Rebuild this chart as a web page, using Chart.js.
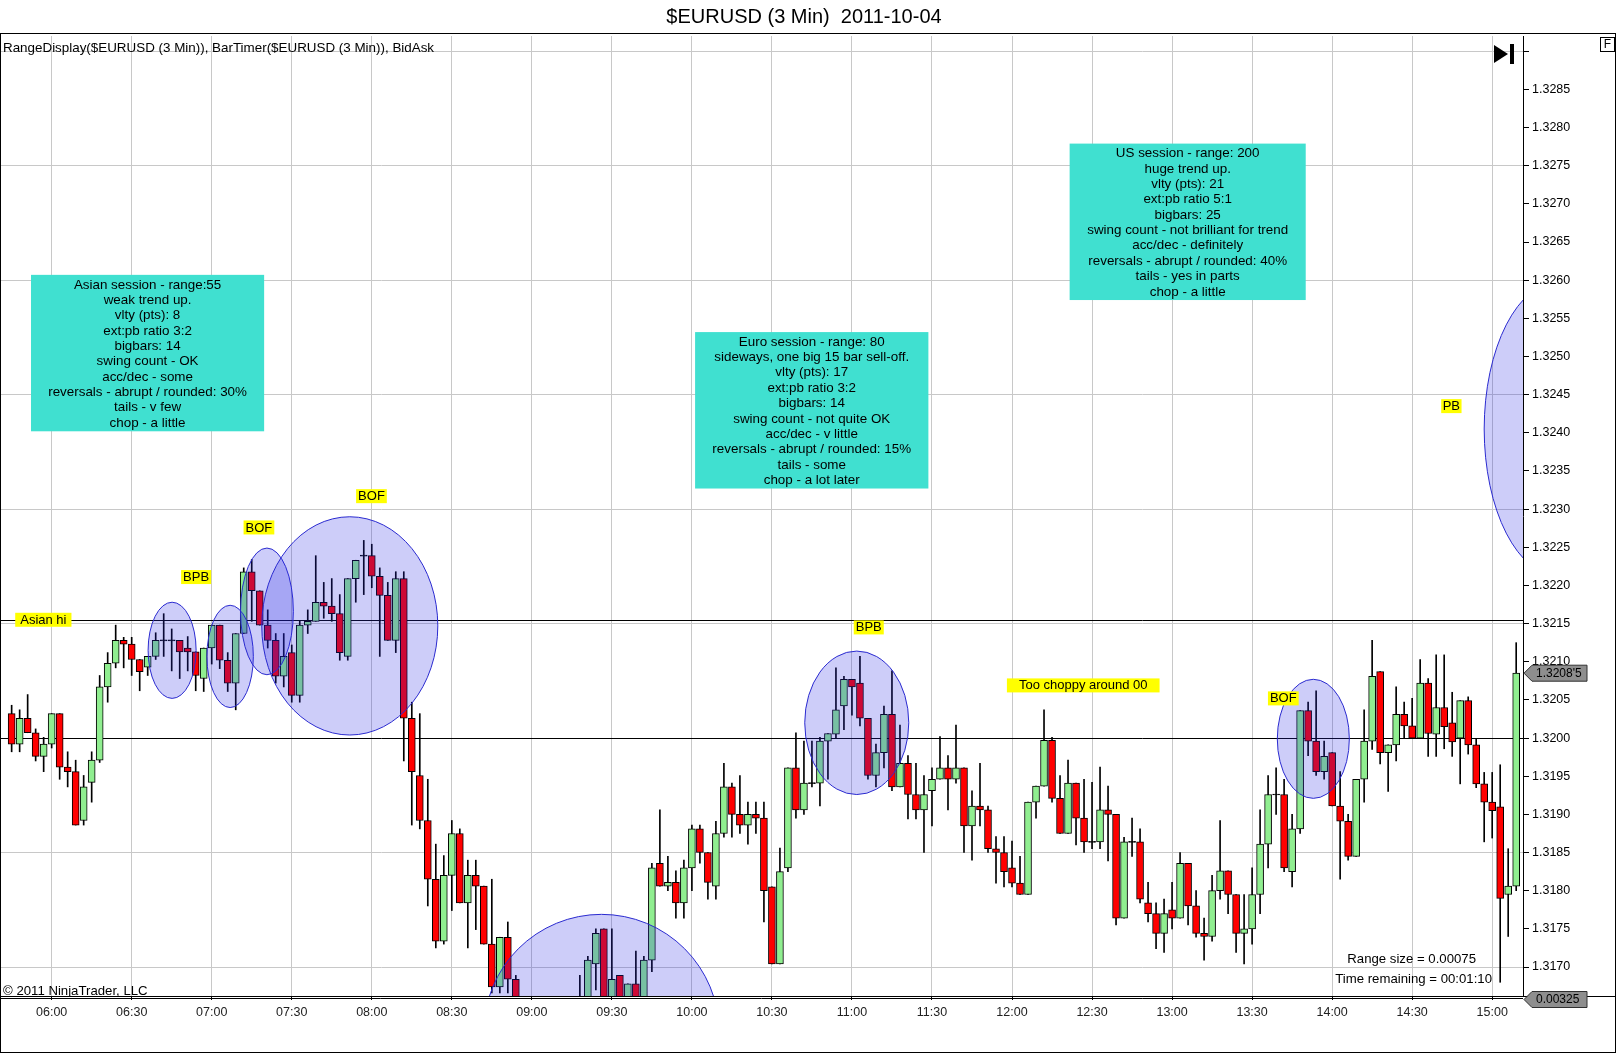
<!DOCTYPE html>
<html>
<head>
<meta charset="utf-8">
<title>$EURUSD (3 Min) 2011-10-04</title>
<script src="https://cdn.jsdelivr.net/npm/chart.js@4.4.1/dist/chart.umd.min.js"></script>
<style>
  html, body { margin: 0; padding: 0; background: #fff; }
  #chart { display: block; }
</style>
</head>
<body>
<canvas id="chart" width="1617" height="1054"></canvas>
<script>
// bar 0 is the 06:00 bar, one bar every 3 minutes; the file starts at 05:45
const firstBar = -5;

const tickBars = [0, 10, 20, 30, 40, 50, 60, 70, 80, 90, 100, 110, 120, 130, 140, 150, 160, 170, 180];
const tickTimes = ['06:00', '06:30', '07:00', '07:30', '08:00', '08:30', '09:00', '09:30', '10:00', '10:30',
  '11:00', '11:30', '12:00', '12:30', '13:00', '13:30', '14:00', '14:30', '15:00'];

const priceTicks = [1.3170, 1.3175, 1.3180, 1.3185, 1.3190, 1.3195, 1.3200, 1.3205, 1.3210, 1.3215, 1.3220,
  1.3225, 1.3230, 1.3235, 1.3240, 1.3245, 1.3250, 1.3255, 1.3260, 1.3265, 1.3270, 1.3275, 1.3280, 1.3285, 1.3290];
const gridPrices = [1.3170, 1.3185, 1.3200, 1.3215, 1.3230, 1.3245, 1.3260, 1.3275, 1.3290];
const unlabeledTicks = [1.3290];

const opens = [
  1.32032, 1.31992, 1.32026, 1.32007, 1.31976, 1.31992, 1.32032, 1.31962, 1.31956, 1.31892,
  1.31942, 1.31971, 1.32067, 1.32098, 1.32128, 1.32123, 1.32103, 1.32093, 1.32107, 1.32128,
  1.32128, 1.32128, 1.32118, 1.32113, 1.32078, 1.32118, 1.32148, 1.32102, 1.32072, 1.32137,
  1.32218, 1.32193, 1.32148, 1.32128, 1.32081, 1.32112, 1.32056, 1.32148, 1.32153, 1.32178,
  1.32173, 1.32163, 1.32107, 1.32209, 1.32239, 1.32239, 1.32212, 1.32187, 1.32128, 1.32209,
  1.32026, 1.31951, 1.31892, 1.31815, 1.31734, 1.31820, 1.31875, 1.31784, 1.31820, 1.31806,
  1.31730, 1.31674, 1.31739, 1.31684, 1.31620, 1.31600, 1.31630, 1.31580, 1.31610, 1.31640,
  1.31620, 1.31640, 1.31650, 1.31704, 1.31750, 1.31650, 1.31689, 1.31645, 1.31678, 1.31655,
  1.31709, 1.31836, 1.31806, 1.31811, 1.31784, 1.31830, 1.31881, 1.31850, 1.31806, 1.31875,
  1.31936, 1.31900, 1.31886, 1.31900, 1.31895, 1.31805, 1.31704, 1.31830, 1.31961, 1.31906,
  1.31941, 1.31941, 1.31996, 1.32005, 1.32042, 1.32077, 1.32072, 1.32026, 1.31951, 1.31981,
  1.32031, 1.31936, 1.31967, 1.31926, 1.31906, 1.31931, 1.31946, 1.31961, 1.31946, 1.31961,
  1.31885, 1.31911, 1.31906, 1.31855, 1.31850, 1.31830, 1.31810, 1.31795, 1.31916, 1.31937,
  1.31997, 1.31921, 1.31875, 1.31941, 1.31895, 1.31864, 1.31864, 1.31906, 1.31900, 1.31764,
  1.31864, 1.31864, 1.31784, 1.31770, 1.31744, 1.31775, 1.31764, 1.31836, 1.31780, 1.31744,
  1.31740, 1.31800, 1.31826, 1.31795, 1.31744, 1.31750, 1.31795, 1.31861, 1.31926, 1.31926,
  1.31825, 1.31881, 1.32036, 1.31996, 1.31956, 1.31981, 1.31911, 1.31891, 1.31845, 1.31946,
  1.31996, 1.32087, 1.31981, 1.31991, 1.32031, 1.32016, 1.32000, 1.32072, 1.32005, 1.32040,
  1.32020, 1.32000, 1.32049, 1.31991, 1.31940, 1.31916, 1.31910, 1.31795, 1.31806
];

const highs = [
  1.32043, 1.32037, 1.32057, 1.32012, 1.32001, 1.32032, 1.32032, 1.31982, 1.31971, 1.31951,
  1.31982, 1.32082, 1.32112, 1.32148, 1.32132, 1.32132, 1.32103, 1.32107, 1.32138, 1.32163,
  1.32143, 1.32128, 1.32133, 1.32113, 1.32118, 1.32148, 1.32148, 1.32112, 1.32137, 1.32223,
  1.32234, 1.32193, 1.32168, 1.32137, 1.32137, 1.32122, 1.32153, 1.32168, 1.32239, 1.32204,
  1.32209, 1.32188, 1.32209, 1.32233, 1.32259, 1.32254, 1.32223, 1.32204, 1.32218, 1.32218,
  1.32047, 1.32032, 1.31946, 1.31861, 1.31846, 1.31892, 1.31881, 1.31840, 1.31840, 1.31806,
  1.31815, 1.31739, 1.31759, 1.31689, 1.31655, 1.31640, 1.31650, 1.31620, 1.31650, 1.31658,
  1.31652, 1.31689, 1.31714, 1.31750, 1.31750, 1.31750, 1.31689, 1.31678, 1.31721, 1.31714,
  1.31836, 1.31906, 1.31845, 1.31826, 1.31840, 1.31886, 1.31886, 1.31850, 1.31891, 1.31967,
  1.31941, 1.31951, 1.31916, 1.31916, 1.31916, 1.31805, 1.31856, 1.31961, 1.32007, 1.31996,
  1.31996, 1.32001, 1.32006, 1.32092, 1.32081, 1.32077, 1.32107, 1.32026, 1.31992, 1.32042,
  1.32088, 1.32017, 1.31977, 1.31967, 1.31951, 1.31961, 1.32002, 1.31977, 1.32017, 1.31961,
  1.31931, 1.31967, 1.31911, 1.31871, 1.31871, 1.31865, 1.31845, 1.31916, 1.31937, 1.32037,
  1.32001, 1.31951, 1.31971, 1.31941, 1.31946, 1.31942, 1.31962, 1.31937, 1.31900, 1.31870,
  1.31895, 1.31881, 1.31811, 1.31784, 1.31789, 1.31811, 1.31850, 1.31836, 1.31800, 1.31764,
  1.31820, 1.31892, 1.31826, 1.31795, 1.31795, 1.31830, 1.31906, 1.31951, 1.31961, 1.31946,
  1.31900, 1.32036, 1.32047, 1.32062, 1.31996, 1.31981, 1.31956, 1.31900, 1.31946, 1.32037,
  1.32128, 1.32087, 1.31991, 1.32067, 1.32047, 1.32052, 1.32103, 1.32078, 1.32109, 1.32109,
  1.32060, 1.32049, 1.32054, 1.31999, 1.31955, 1.31955, 1.31965, 1.31855, 1.32125
];

const lows = [
  1.31982, 1.31982, 1.32007, 1.31970, 1.31956, 1.31987, 1.31946, 1.31936, 1.31886, 1.31886,
  1.31916, 1.31968, 1.32047, 1.32092, 1.32092, 1.32082, 1.32062, 1.32082, 1.32103, 1.32107,
  1.32088, 1.32078, 1.32088, 1.32062, 1.32061, 1.32097, 1.32091, 1.32061, 1.32037, 1.32137,
  1.32153, 1.32148, 1.32118, 1.32072, 1.32067, 1.32047, 1.32047, 1.32137, 1.32153, 1.32157,
  1.32153, 1.32102, 1.32102, 1.32178, 1.32188, 1.32197, 1.32107, 1.32128, 1.32112, 1.31970,
  1.31886, 1.31881, 1.31780, 1.31725, 1.31730, 1.31774, 1.31784, 1.31725, 1.31749, 1.31730,
  1.31666, 1.31666, 1.31666, 1.31600, 1.31580, 1.31560, 1.31570, 1.31540, 1.31590, 1.31600,
  1.31590, 1.31610, 1.31640, 1.31670, 1.31630, 1.31640, 1.31630, 1.31635, 1.31640, 1.31650,
  1.31694, 1.31806, 1.31800, 1.31764, 1.31764, 1.31800, 1.31836, 1.31789, 1.31789, 1.31870,
  1.31870, 1.31875, 1.31861, 1.31875, 1.31759, 1.31704, 1.31704, 1.31825, 1.31895, 1.31900,
  1.31936, 1.31911, 1.31946, 1.32000, 1.32011, 1.32030, 1.32016, 1.31946, 1.31936, 1.31961,
  1.31931, 1.31936, 1.31894, 1.31894, 1.31850, 1.31885, 1.31946, 1.31906, 1.31941, 1.31850,
  1.31840, 1.31885, 1.31850, 1.31810, 1.31805, 1.31805, 1.31795, 1.31795, 1.31895, 1.31937,
  1.31916, 1.31875, 1.31875, 1.31860, 1.31850, 1.31855, 1.31855, 1.31839, 1.31755, 1.31764,
  1.31845, 1.31784, 1.31759, 1.31724, 1.31719, 1.31750, 1.31764, 1.31755, 1.31739, 1.31709,
  1.31734, 1.31789, 1.31770, 1.31719, 1.31704, 1.31730, 1.31770, 1.31830, 1.31900, 1.31825,
  1.31805, 1.31875, 1.31977, 1.31951, 1.31946, 1.31911, 1.31815, 1.31840, 1.31845, 1.31916,
  1.31985, 1.31966, 1.31930, 1.31970, 1.32000, 1.32000, 1.32000, 1.31976, 1.31976, 1.31986,
  1.31976, 1.31940, 1.31979, 1.31935, 1.31864, 1.31869, 1.31680, 1.31740, 1.31800
];

const closes = [
  1.31992, 1.32026, 1.32007, 1.31976, 1.31992, 1.32032, 1.31962, 1.31956, 1.31886, 1.31936,
  1.31971, 1.32067, 1.32098, 1.32128, 1.32123, 1.32103, 1.32087, 1.32107, 1.32128, 1.32128,
  1.32128, 1.32113, 1.32113, 1.32082, 1.32118, 1.32148, 1.32102, 1.32072, 1.32137, 1.32218,
  1.32193, 1.32148, 1.32128, 1.32081, 1.32107, 1.32056, 1.32148, 1.32153, 1.32178, 1.32173,
  1.32163, 1.32112, 1.32209, 1.32233, 1.32239, 1.32212, 1.32187, 1.32128, 1.32209, 1.32026,
  1.31956, 1.31892, 1.31815, 1.31734, 1.31820, 1.31875, 1.31784, 1.31820, 1.31806, 1.31730,
  1.31674, 1.31739, 1.31684, 1.31620, 1.31600, 1.31630, 1.31580, 1.31610, 1.31640, 1.31620,
  1.31645, 1.31650, 1.31709, 1.31744, 1.31650, 1.31684, 1.31645, 1.31678, 1.31655, 1.31709,
  1.31830, 1.31806, 1.31811, 1.31784, 1.31830, 1.31881, 1.31850, 1.31811, 1.31875, 1.31936,
  1.31900, 1.31886, 1.31900, 1.31895, 1.31800, 1.31704, 1.31825, 1.31961, 1.31906, 1.31941,
  1.31941, 1.31996, 1.32006, 1.32037, 1.32077, 1.32067, 1.32026, 1.31951, 1.31981, 1.32031,
  1.31936, 1.31967, 1.31926, 1.31906, 1.31926, 1.31946, 1.31961, 1.31946, 1.31961, 1.31885,
  1.31911, 1.31906, 1.31855, 1.31850, 1.31825, 1.31810, 1.31795, 1.31916, 1.31937, 1.31997,
  1.31921, 1.31875, 1.31941, 1.31895, 1.31864, 1.31864, 1.31906, 1.31900, 1.31764, 1.31864,
  1.31864, 1.31789, 1.31770, 1.31744, 1.31770, 1.31764, 1.31836, 1.31780, 1.31744, 1.31740,
  1.31800, 1.31826, 1.31795, 1.31744, 1.31750, 1.31795, 1.31861, 1.31926, 1.31926, 1.31830,
  1.31881, 1.32036, 1.31996, 1.31956, 1.31976, 1.31911, 1.31891, 1.31845, 1.31946, 1.31996,
  1.32081, 1.31981, 1.31991, 1.32031, 1.32016, 1.32000, 1.32072, 1.32006, 1.32040, 1.32015,
  1.31995, 1.32049, 1.31991, 1.31940, 1.31916, 1.31905, 1.31790, 1.31806, 1.32085
];

const asianHigh = 1.32155;
const roundLevel = 1.3200;

// drawn marks, in chart units: bar index and price
const ellipses = [
  // centre bar, centre price, half width (bars), half height (price)
  [15.05, 1.32115, 3.0, 0.00063],
  [22.3, 1.32107, 2.9, 0.00067],
  [26.9, 1.32166, 3.3, 0.00083],
  [37.25, 1.32147, 11.0, 0.00143],
  [100.6, 1.32020, 6.5, 0.00094],
  [157.65, 1.31999, 4.5, 0.00078],
  [68.7, 1.31615, 14.7, 0.00154],
  [188.4, 1.32405, 9.4, 0.00193]
];

const tags = [
  { text: 'Asian hi', bar: -1.04, price: 1.32155, pad: 5 },
  { text: 'BPB', bar: 18.05, price: 1.32211, pad: 2 },
  { text: 'BOF', bar: 25.9, price: 1.32276, pad: 2 },
  { text: 'BOF', bar: 39.96, price: 1.32317, pad: 2 },
  { text: 'BPB', bar: 102.1, price: 1.32145, pad: 2 },
  { text: 'Too choppy around 00', bar: 128.9, price: 1.32069, pad: 12 },
  { text: 'BOF', bar: 153.9, price: 1.32052, pad: 2 },
  { text: 'PB', bar: 174.9, price: 1.32435, pad: 1.5 }
];

const notes = [
  { from: -2.58, to: 26.55, top: 1.32607, bottom: 1.32402, lines: [
    'Asian session - range:55', 'weak trend up.', 'vlty (pts): 8', 'ext:pb ratio 3:2', 'bigbars: 14',
    'swing count - OK', 'acc/dec - some', 'reversals - abrupt / rounded: 30%', 'tails - v few', 'chop - a little'] },
  { from: 80.4, to: 109.55, top: 1.32532, bottom: 1.32327, lines: [
    'Euro session - range: 80', 'sideways, one big 15 bar sell-off.', 'vlty (pts): 17', 'ext:pb ratio 3:2', 'bigbars: 14',
    'swing count - not quite OK', 'acc/dec - v little', 'reversals - abrupt / rounded: 15%', 'tails - some', 'chop - a lot later'] },
  { from: 127.2, to: 156.7, top: 1.32779, bottom: 1.32574, lines: [
    'US session - range: 200', 'huge trend up.', 'vlty (pts): 21', 'ext:pb ratio 5:1', 'bigbars: 25',
    'swing count - not brilliant for trend', 'acc/dec - definitely', 'reversals - abrupt / rounded: 40%', 'tails - yes in parts', 'chop - a little'] }
];

const FONT = 'Arial, "Liberation Sans", sans-serif';

const bars = opens.map((o, k) => ({ x: firstBar + k, o, h: highs[k], l: lows[k], c: closes[k] }));
const bodyData = bars.map(b => ({
  x: b.x,
  y: b.o === b.c ? [b.o - 0.0000066, b.o + 0.0000066] : [b.o, b.c]
}));
const bodyColors = bars.map(b => (b.c > b.o ? '#90ee90' : b.c < b.o ? '#ff0000' : '#000000'));
const wickData = bars.map(b => ({ x: b.x, y: [b.l, b.h] }));

const onGrid = v => gridPrices.some(p => Math.abs(p - v) < 1e-7);

const decor = {
  id: 'decor',
  beforeDraw(chart) {
    const { ctx } = chart;
    ctx.save();
    ctx.fillStyle = '#fff';
    ctx.fillRect(0, 0, chart.width, chart.height);
    ctx.restore();
  },
  beforeDatasetsDraw(chart) {
    const { ctx, chartArea: a, scales: { y } } = chart;
    ctx.save();
    ctx.strokeStyle = '#000';
    ctx.lineWidth = 1;
    [asianHigh, roundLevel].forEach(p => {
      const py = Math.round(y.getPixelForValue(p)) + 0.5;
      ctx.beginPath();
      ctx.moveTo(a.left, py);
      ctx.lineTo(a.right, py);
      ctx.stroke();
    });
    ctx.restore();
  },
  afterDatasetsDraw(chart) {
    const { ctx, chartArea: a, scales: { x, y } } = chart;

    ctx.save();
    ctx.beginPath();
    ctx.rect(a.left, a.top, a.right - a.left, a.bottom - a.top);
    ctx.clip();

    // circled setups
    ellipses.forEach(([cb, cp, rb, rp]) => {
      const px = x.getPixelForValue(cb);
      const py = y.getPixelForValue(cp);
      const rx = Math.abs(x.getPixelForValue(cb + rb) - px);
      const ry = Math.abs(y.getPixelForValue(cp + rp) - py);
      ctx.beginPath();
      ctx.ellipse(px, py, rx, ry, 0, 0, Math.PI * 2);
      ctx.fillStyle = 'rgba(40, 40, 230, 0.23)';
      ctx.fill();
      ctx.strokeStyle = '#2b2bd0';
      ctx.lineWidth = 1;
      ctx.stroke();
    });

    // session notes
    ctx.font = `13.4px ${FONT}`;
    ctx.textAlign = 'center';
    ctx.textBaseline = 'middle';
    notes.forEach(n => {
      const l = x.getPixelForValue(n.from), r = x.getPixelForValue(n.to);
      const t = y.getPixelForValue(n.top), b = y.getPixelForValue(n.bottom);
      ctx.fillStyle = '#40e0d0';
      ctx.fillRect(l, t, r - l, b - t);
      ctx.fillStyle = '#000';
      n.lines.forEach((s, k) => ctx.fillText(s, (l + r) / 2, t + 10 + k * 15.36));
    });

    // yellow tags
    ctx.font = `13px ${FONT}`;
    tags.forEach(tg => {
      const w = ctx.measureText(tg.text).width + tg.pad * 2;
      const px = x.getPixelForValue(tg.bar), py = y.getPixelForValue(tg.price);
      ctx.fillStyle = '#ffff00';
      ctx.fillRect(px - w / 2, py - 7, w, 14);
      ctx.fillStyle = '#000';
      ctx.fillText(tg.text, px, py + 0.5);
    });

    // chart-trader corner texts
    ctx.font = `13.2px ${FONT}`;
    ctx.textAlign = 'left';
    ctx.fillText('\u00a9 2011 NinjaTrader, LLC', 3, a.bottom - 5);
    ctx.textAlign = 'right';
    ctx.fillText('Range size = 0.00075', a.right - 47, a.bottom - 37);
    ctx.fillText('Time remaining = 00:01:10', a.right - 31, a.bottom - 16.5);
    ctx.textAlign = 'left';
    ctx.font = `13.4px ${FONT}`;
    ctx.fillText('RangeDisplay($EURUSD (3 Min)), BarTimer($EURUSD (3 Min)), BidAsk', 3, a.top + 12.5);

    // go-to-end button
    ctx.fillStyle = '#000';
    ctx.beginPath();
    ctx.moveTo(a.right - 29, a.top + 9);
    ctx.lineTo(a.right - 29, a.top + 27);
    ctx.lineTo(a.right - 15, a.top + 18);
    ctx.closePath();
    ctx.fill();
    ctx.fillRect(a.right - 13, a.top + 8, 4, 20);
    ctx.restore();

    // frame
    ctx.save();
    ctx.strokeStyle = '#000';
    ctx.lineWidth = 1;
    ctx.beginPath();
    ctx.moveTo(0, 33.5); ctx.lineTo(1616, 33.5);
    ctx.moveTo(0.5, 33.5); ctx.lineTo(0.5, 1052.5);
    ctx.moveTo(1615.5, 33.5); ctx.lineTo(1615.5, 1052.5);
    ctx.moveTo(0, 1052.5); ctx.lineTo(1616, 1052.5);
    ctx.moveTo(0, a.bottom + 0.5); ctx.lineTo(1616, a.bottom + 0.5);
    ctx.moveTo(0, a.bottom + 2.5); ctx.lineTo(a.right, a.bottom + 2.5);
    ctx.stroke();

    // "F" box
    ctx.strokeRect(1600.5, 37.5, 14, 14);
    ctx.fillStyle = '#000';
    ctx.font = `12px ${FONT}`;
    ctx.textAlign = 'center';
    ctx.textBaseline = 'middle';
    ctx.fillText('F', 1607.5, 45);

    // price markers on the axis
    const last = bars[bars.length - 1];
    const marker = (py, label) => {
      const left = a.right + 1;
      ctx.beginPath();
      ctx.moveTo(left, py);
      ctx.lineTo(left + 8, py - 8);
      ctx.lineTo(left + 63, py - 8);
      ctx.lineTo(left + 63, py + 8);
      ctx.lineTo(left + 8, py + 8);
      ctx.closePath();
      ctx.fillStyle = '#8e8e8e';
      ctx.fill();
      ctx.strokeStyle = '#303030';
      ctx.stroke();
      ctx.fillStyle = '#000';
      ctx.textAlign = 'left';
      ctx.fillText(label, left + 12, py + 0.5);
    };
    const lastTxt = last.c.toFixed(5);
    marker(y.getPixelForValue(last.c), lastTxt.slice(0, 6) + "'" + lastTxt.slice(6));
    marker(a.bottom + 3.5, (last.h - last.l).toFixed(5));

    // title
    ctx.font = `20px ${FONT}`;
    ctx.textAlign = 'center';
    ctx.fillText('$EURUSD (3 Min)  2011-10-04', 804, 17);
    ctx.restore();
  }
};

new Chart(document.getElementById('chart'), {
  type: 'bar',
  data: {
    datasets: [
      {
        data: bodyData,
        backgroundColor: bodyColors,
        borderColor: '#000',
        borderWidth: 1,
        borderSkipped: false,
        barThickness: 7,
        grouped: false,
        order: 0
      },
      {
        data: wickData,
        backgroundColor: '#000',
        borderWidth: 0,
        barThickness: 1,
        grouped: false,
        order: 1
      }
    ]
  },
  options: {
    responsive: false,
    animation: false,
    devicePixelRatio: 1,
    layout: { padding: { top: 36, left: 1, right: 0, bottom: 0 } },
    plugins: {
      legend: { display: false },
      tooltip: { enabled: false },
      title: { display: false }
    },
    scales: {
      x: {
        type: 'linear',
        min: -6.33,
        max: 183.85,
        offset: false,
        afterBuildTicks: s => { s.ticks = tickBars.map(v => ({ value: v })); },
        afterFit: s => { s.height = 58; },
        ticks: {
          autoSkip: false,
          maxRotation: 0,
          padding: 5,
          color: '#222',
          font: { family: FONT, size: 12.5 },
          callback: (v, i) => tickTimes[i]
        },
        grid: { color: '#c8c8c8', tickColor: '#000', tickLength: 4, offset: false },
        border: { color: '#000' }
      },
      y: {
        position: 'right',
        min: 1.31662,
        max: 1.3292,
        afterBuildTicks: s => { s.ticks = priceTicks.map(v => ({ value: v })); },
        afterFit: s => { s.width = 94; },
        ticks: {
          autoSkip: false,
          padding: 3,
          color: '#000',
          font: { family: FONT, size: 12.5 },
          callback: v => (unlabeledTicks.includes(v) ? '' : v.toFixed(4))
        },
        grid: {
          color: c => (c.tick && onGrid(c.tick.value) ? '#c8c8c8' : 'rgba(0,0,0,0)'),
          tickColor: '#000',
          tickLength: 6
        },
        border: { color: '#000' }
      }
    }
  },
  plugins: [decor]
});
</script>
</body>
</html>
